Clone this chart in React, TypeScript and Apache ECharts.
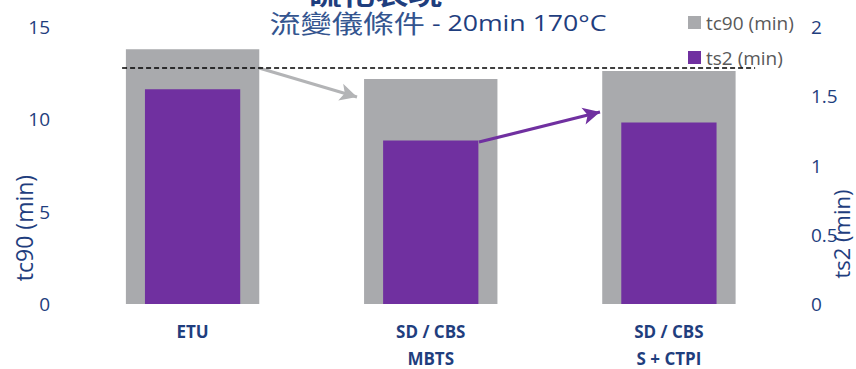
import React, { useEffect, useRef } from "react";
import * as echarts from "echarts";

// Categories along the x axis (two-line labels for the compound names)
const categories = ["ETU", "SD / CBS\nMBTS", "SD / CBS\nS + CTPI"];
// tc90 cure time (min), left axis
const tc90Values = [13.8, 12.18, 12.62];
// ts2 scorch time (min), right axis
const ts2Values = [1.55, 1.18, 1.31];
// Dashed reference level on the tc90 scale
const tc90Reference = 12.78;
// Axis ranges
const tc90Axis = { min: 0, max: 15, interval: 5 };
const ts2Axis = { min: 0, max: 2, interval: 0.5 };

const seriesNames = ["tc90 (min)", "ts2 (min)"];
const titleMain = "流變儀條件";
const titleCond = " - 20min 170°C";
const titleTop = "硫化表現";

const NAVY = "#1F3E7E";
const GRAY = "#A9AAAD";
const PURPLE = "#7030A0";
const LATIN = "'Open Sans', 'Noto Sans', sans-serif";
const CJK = "'Noto Sans CJK TC', 'Noto Sans CJK SC', sans-serif";

// Annotation arrows, in [fraction of plot width, tc90 value]
const grayArrow = [[0.2596, 12.78], [0.3968, 11.21]];
const purpleArrow = [[0.5675, 8.77], [0.7369, 10.4]];
const referenceSpan = [0.068, 0.954];

export default function App() {
  const ref = useRef<HTMLDivElement>(null);

  useEffect(() => {
    if (!ref.current) return;
    const chart = echarts.init(ref.current, null, { renderer: "svg" });

    const option: any = {
      animation: false,
      grid: { left: 73.5, right: 68, top: 27, bottom: 65, outerBoundsMode: "none" },
      legend: {
        data: seriesNames,
        orient: "vertical",
        left: 683,
        top: 8,
        icon: "rect",
        itemWidth: 13,
        itemHeight: 13,
        itemGap: 16,
        textStyle: { fontSize: 19, color: "#595959", fontFamily: LATIN },
      },
      xAxis: [
        {
          type: "category",
          data: categories,
          axisLine: { show: false },
          axisTick: { show: false },
          axisLabel: {
            color: NAVY,
            fontFamily: LATIN,
            fontWeight: "bold",
            fontSize: 17,
            lineHeight: 27,
            margin: 14,
          },
        },
        { type: "category", data: categories, show: false },
        { type: "value", min: 0, max: 1, show: false },
      ],
      yAxis: [
        {
          type: "value",
          ...tc90Axis,
          splitLine: { show: false },
          axisLine: { show: false },
          axisTick: { show: false },
          axisLabel: { color: NAVY, fontFamily: LATIN, fontSize: 19, margin: 23.5 },
        },
        {
          type: "value",
          position: "right",
          ...ts2Axis,
          splitLine: { show: false },
          axisLine: { show: false },
          axisTick: { show: false },
          axisLabel: { color: NAVY, fontFamily: LATIN, fontSize: 19, margin: 23 },
        },
      ],
      series: [
        {
          name: seriesNames[0],
          type: "bar",
          xAxisIndex: 0,
          yAxisIndex: 0,
          data: tc90Values,
          barWidth: "56%",
          itemStyle: { color: GRAY },
        },
        {
          name: seriesNames[1],
          type: "bar",
          xAxisIndex: 1,
          yAxisIndex: 1,
          data: ts2Values,
          barWidth: "40%",
          itemStyle: { color: PURPLE },
        },
        {
          type: "line",
          xAxisIndex: 2,
          yAxisIndex: 0,
          data: referenceSpan.map((x) => [x, tc90Reference]),
          symbol: "none",
          silent: true,
          z: 5,
          lineStyle: { color: "#000", width: 1.4, type: [5, 3] },
          markLine: {
            silent: true,
            symbol: ["none", "arrow"],
            symbolSize: [13, 17],
            label: { show: false },
            data: [
              [
                { coord: grayArrow[0], lineStyle: { color: "#B3B4B6", width: 3, type: "solid" }, itemStyle: { color: "#B3B4B6" } },
                { coord: grayArrow[1] },
              ],
              [
                { coord: purpleArrow[0], lineStyle: { color: PURPLE, width: 3, type: "solid" }, itemStyle: { color: PURPLE } },
                { coord: purpleArrow[1] },
              ],
            ],
          },
        },
      ],
      graphic: [
        {
          type: "text",
          x: 375,
          y: 7,
          scaleX: 1.2,
          style: {
            text: titleTop,
            font: `bold 28px ${CJK}`,
            fill: NAVY,
            align: "center",
            verticalAlign: "bottom",
          },
        },
        {
          type: "text",
          x: 438,
          y: 23,
          scaleX: 1.27,
          style: {
            text: `{a|${titleMain}}{b|${titleCond}}`,
            align: "center",
            verticalAlign: "middle",
            rich: {
              a: { fontFamily: CJK, fontSize: 24.5, fill: "#34558F", verticalAlign: "middle" },
              b: { fontFamily: LATIN, fontSize: 21, fill: NAVY, verticalAlign: "middle" },
            },
          },
        },
        {
          type: "text",
          x: 24,
          y: 228,
          rotation: Math.PI / 2,
          style: {
            text: "tc90 (min)",
            font: `23px ${LATIN}`,
            fill: NAVY,
            align: "center",
            verticalAlign: "middle",
          },
        },
        {
          type: "text",
          x: 841,
          y: 234,
          rotation: Math.PI / 2,
          style: {
            text: "ts2 (min)",
            font: `22px ${LATIN}`,
            fill: NAVY,
            align: "center",
            verticalAlign: "middle",
          },
        },
      ],
    };

    chart.setOption(option);
    return () => chart.dispose();
  }, []);

  return (
    <div
      ref={ref}
      style={{ position: "fixed", left: 0, top: 0, width: 856, height: 369, background: "#fff" }}
    />
  );
}
